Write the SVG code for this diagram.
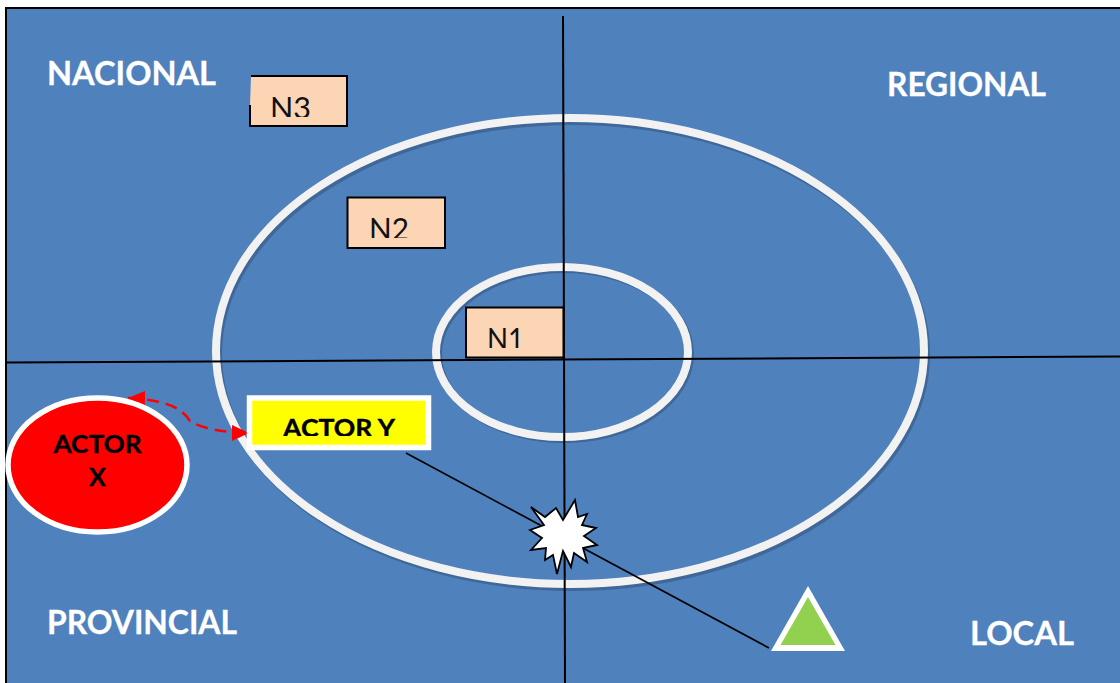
<svg xmlns="http://www.w3.org/2000/svg" width="1120" height="683" viewBox="0 0 1120 683">
  <style>
    text { font-family: "Lato", "Liberation Sans", sans-serif; }
    .zone { fill: #ffffff; font-weight: 700; font-size: 32px; stroke: #ffffff; stroke-width: 0.3; }
    .n { fill: #111111; font-size: 30px; }
    .nbox { fill: #fcd5b5; stroke: #000000; stroke-width: 2; }
    .actor { fill: #000000; font-weight: 700; font-size: 25px; stroke: #000000; stroke-width: 0.4; }
    .ring { fill: none; stroke: #f2f2f2; stroke-width: 8; }
    .ringshadow { fill: none; stroke: #3f6797; stroke-width: 8; }
    .axis { stroke: #000000; stroke-width: 2; fill: none; }
    .link { stroke: #000000; stroke-width: 1.7; fill: none; }
  </style>
  <defs>
    <marker id="red-head" markerUnits="userSpaceOnUse" markerWidth="18" markerHeight="16" refX="17" refY="8" orient="auto-start-reverse">
      <path d="M0,0 L17,8 L0,16 Z" fill="#ff0000"/>
    </marker>
    <clipPath id="c3"><rect x="260" y="85" width="70" height="32"/></clipPath>
    <clipPath id="c2"><rect x="360" y="207" width="70" height="31"/></clipPath>
    <clipPath id="c1"><rect x="480" y="317" width="60" height="31"/></clipPath>
    <clipPath id="cy"><rect x="270" y="405" width="140" height="31"/></clipPath>
  </defs>

  <rect x="0" y="0" width="1120" height="683" fill="#ffffff"/>
  <rect x="6" y="8" width="1116" height="677" fill="#4f81bd" stroke="#000000" stroke-width="2"/>

  <g id="ring-outer">
    <ellipse class="ringshadow" cx="572" cy="354" rx="354" ry="233"/>
    <ellipse class="ring" cx="570" cy="351" rx="354" ry="233"/>
  </g>
  <g id="ring-inner">
    <ellipse class="ringshadow" cx="564" cy="354" rx="126" ry="85"/>
    <ellipse class="ring" cx="562" cy="352" rx="126" ry="85"/>
  </g>

  <g id="n3">
    <path class="nbox" d="M251,76 H347 V126 H250 V105"/>
    <rect x="252" y="77" width="94" height="48" fill="#fcd5b5"/>
    <text class="n" x="270" y="119" clip-path="url(#c3)" textLength="41" lengthAdjust="spacingAndGlyphs">N3</text>
  </g>
  <g id="n2">
    <rect class="nbox" x="347.500" y="197.500" width="97.500" height="50.500"/>
    <text class="n" x="369" y="240" clip-path="url(#c2)" textLength="40" lengthAdjust="spacingAndGlyphs">N2</text>
  </g>
  <g id="n1">
    <rect class="nbox" x="466" y="307.500" width="97.500" height="50"/>
    <text class="n" x="487" y="350" clip-path="url(#c1)" textLength="37" lengthAdjust="spacingAndGlyphs">N1</text>
  </g>

  <g id="connectors">
    <path class="axis" d="M563,16 L565,683"/>
    <path class="axis" d="M7,362.500 L1120,356.500"/>
    <path class="link" d="M406,453 L769,648"/>
    <path d="M128,398 C170,400 183,410 190,421 C200,428 225,433 249,433" fill="none" stroke="#ff0000" stroke-width="2.500" stroke-dasharray="12,7" marker-start="url(#red-head)" marker-end="url(#red-head)"/>
  </g>

  <g id="actor-x">
    <ellipse cx="97.500" cy="465" rx="89.500" ry="67" fill="#ff0000" stroke="#ffffff" stroke-width="5.500"/>
    <text class="actor" x="97.500" y="453" text-anchor="middle" textLength="88" lengthAdjust="spacingAndGlyphs">ACTOR</text>
    <text class="actor" x="97.500" y="486" text-anchor="middle">X</text>
  </g>
  <g id="actor-y">
    <rect x="249.500" y="398" width="179" height="49.500" fill="#ffff00" stroke="#ffffff" stroke-width="5.500"/>
    <text class="actor" x="283" y="437" clip-path="url(#cy)" textLength="112" lengthAdjust="spacingAndGlyphs">ACTOR Y</text>
  </g>
  <g id="burst">
    <polygon points="531,507 545,517 556,508 563,520 575,500 578,517 587,514 582,525 596,528 584,536 597,545 583,548 587,562 574,553 571,567 563,551 557,574 553,555 545,560 546,548 531,550 542,538 530,530 544,525" fill="#ffffff" stroke="#000000" stroke-width="1.800"/>
  </g>
  <g id="triangle">
    <polygon points="808,586 845,651 771,651" fill="#ffffff"/>
    <polygon points="808,597 835.500,645 780.500,645" fill="#92d050"/>
  </g>

  <g id="labels">
    <text class="zone" x="47" y="85" textLength="169" lengthAdjust="spacingAndGlyphs">NACIONAL</text>
    <text class="zone" x="887" y="96" textLength="159" lengthAdjust="spacingAndGlyphs">REGIONAL</text>
    <text class="zone" x="47" y="634" textLength="190" lengthAdjust="spacingAndGlyphs">PROVINCIAL</text>
    <text class="zone" x="970" y="645" textLength="104" lengthAdjust="spacingAndGlyphs">LOCAL</text>
  </g>
</svg>
